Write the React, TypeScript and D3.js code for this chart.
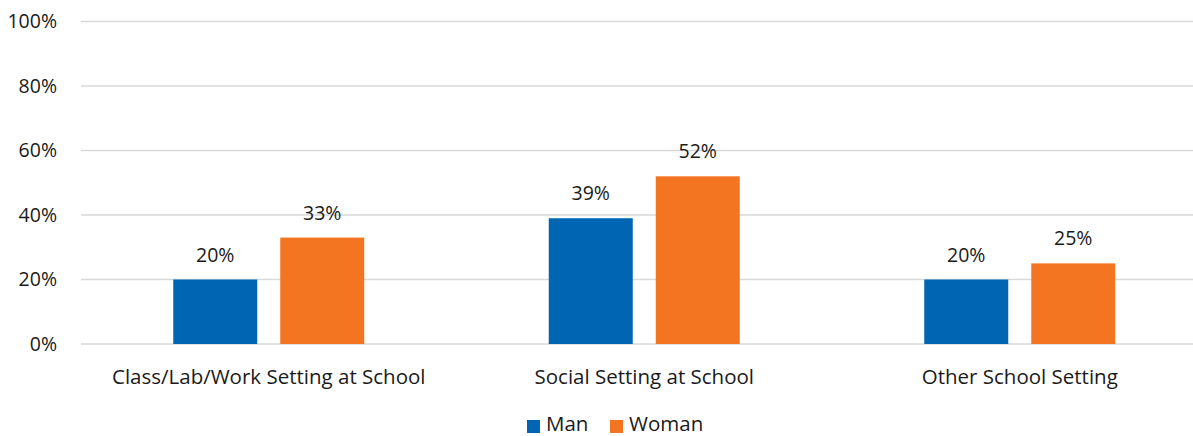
import React from "react";
import * as d3 from "d3";

const categories = ["Class/Lab/Work Setting at School", "Social Setting at School", "Other School Setting"];
const seriesNames = ["Man", "Woman"];
const manValues = [20, 39, 20];
const womanValues = [33, 52, 25];
const yTicks = [0, 20, 40, 60, 80, 100];
const colors = ["#0066B3", "#F47521"];

const W = 1193;
const H = 436;
const FONT = "'Open Sans', sans-serif";
const FS = 20.5;

export default function App() {
  const x = d3.scaleBand<string>().domain(categories).range([81, 81 + 375.5 * 3]).paddingInner(0).paddingOuter(0);
  const y = d3.scaleLinear().domain([0, 100]).range([344, 21.5]);
  const barW = 84;
  const gap = 23;
  const series = [manValues, womanValues];

  return (
    <svg width={W} height={H} style={{ position: "absolute", left: 0, top: 0, background: "#fff" }}>
      {yTicks.map((t) => (
        <g key={t}>
          <line x1={81} x2={W} y1={y(t)} y2={y(t)} stroke="#d9d9d9" strokeWidth={1.5} />
          <text x={57} y={y(t)} dy="0.35em" textAnchor="end" fontFamily={FONT} fontSize={FS - 1} fill="#1a1a1a">
            {t}%
          </text>
        </g>
      ))}
      {categories.map((c, i) => {
        const cx = (x(c) as number) + x.bandwidth() / 2;
        return (
          <g key={c}>
            {series.map((vals, s) => {
              const bx = s === 0 ? cx - gap / 2 - barW : cx + gap / 2;
              return (
                <g key={s}>
                  <rect x={bx} y={y(vals[i])} width={barW} height={y(0) - y(vals[i])} fill={colors[s]} />
                  <text x={bx + barW / 2} y={y(vals[i]) - 18} textAnchor="middle" fontFamily={FONT} fontSize={FS - 1} fill="#1a1a1a">
                    {vals[i]}%
                  </text>
                </g>
              );
            })}
            <text x={cx} y={384} textAnchor="middle" fontFamily={FONT} fontSize={FS} fill="#1a1a1a">
              {c}
            </text>
          </g>
        );
      })}
      {seriesNames.map((n, s) => {
        const lx = s === 0 ? 527 : 610;
        return (
          <g key={n}>
            <rect x={lx} y={420} width={13} height={13} fill={colors[s]} />
            <text x={lx + 19} y={431} fontFamily={FONT} fontSize={FS} fill="#1a1a1a">
              {n}
            </text>
          </g>
        );
      })}
    </svg>
  );
}
